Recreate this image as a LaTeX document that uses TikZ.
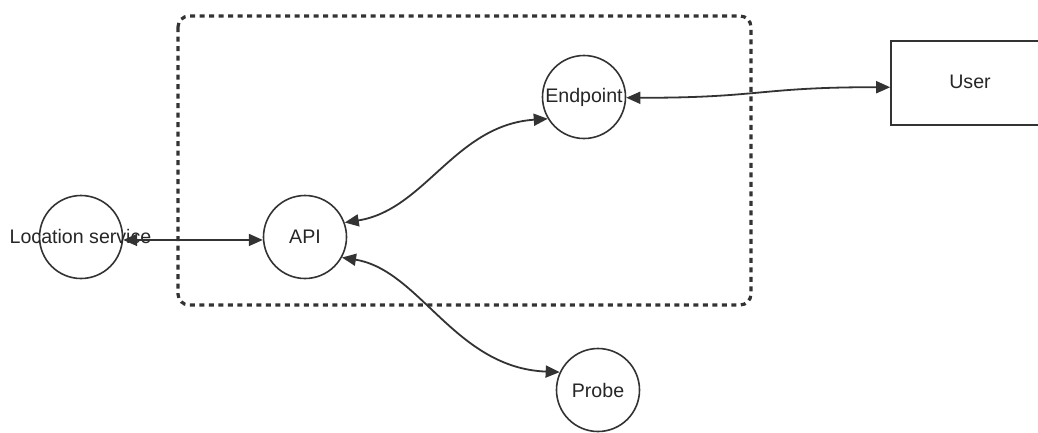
\documentclass[tikz,border=0pt]{standalone}
\usepackage{fontspec}
\setmainfont{Liberation Sans}
\usetikzlibrary{arrows.meta}
\definecolor{ink}{HTML}{333333}
\tikzset{
  roundnode/.style={circle, draw=ink, line width=1.6pt, minimum size=83pt, inner sep=0pt, fill=white},
  boxnode/.style={rectangle, draw=ink, line width=1.6pt, minimum width=160pt, minimum height=84pt, inner sep=0pt, fill=white},
  lbl/.style={inner sep=0pt, text=black!85, font=\fontsize{19.6}{23}\selectfont},
  link/.style={draw=ink, line width=1.8pt, {Triangle[length=14pt,width=12pt]}-{Triangle[length=14pt,width=12pt]}},
  zone/.style={draw=ink, line width=3.2pt, dash pattern=on 5pt off 4.5pt, rounded corners=11pt}
}
\begin{document}
\begin{tikzpicture}[x=1pt,y=-1pt]
  \useasboundingbox (0,0) rectangle (1038,432);
  \clip (0,0) rectangle (1038,432);

  % boundary of the service group
  \draw[zone] (178,16) rectangle (751,305);

  % components
  \node[roundnode] (loc) at (81,237) {};
  \node[lbl] (loclbl) at (80.5,236) {Location service};
  \node[roundnode] (api) at (305,237) {};
  \node[lbl] at (api) {API};
  \node[roundnode] (endp) at (584,97) {};
  \node[lbl] at (endp) {Endpoint};
  \node[roundnode] (probe) at (598,390) {};
  \node[lbl] at (probe) {Probe};
  \node[boxnode] (user) at (971,83) {};
  \node[lbl] at (970,82) {User};

  % connections
  \draw[link] (loc.-4) -- (api.184);
  \draw[link] (api.20) .. controls (425,210) and (455,125) .. (endp.211);
  \draw[link] (api.-29) .. controls (420,270) and (455,368) .. (probe.155);
  \draw[link] (endp.-1) .. controls (760,98) and (760,87) .. (user.183);
\end{tikzpicture}
\end{document}
